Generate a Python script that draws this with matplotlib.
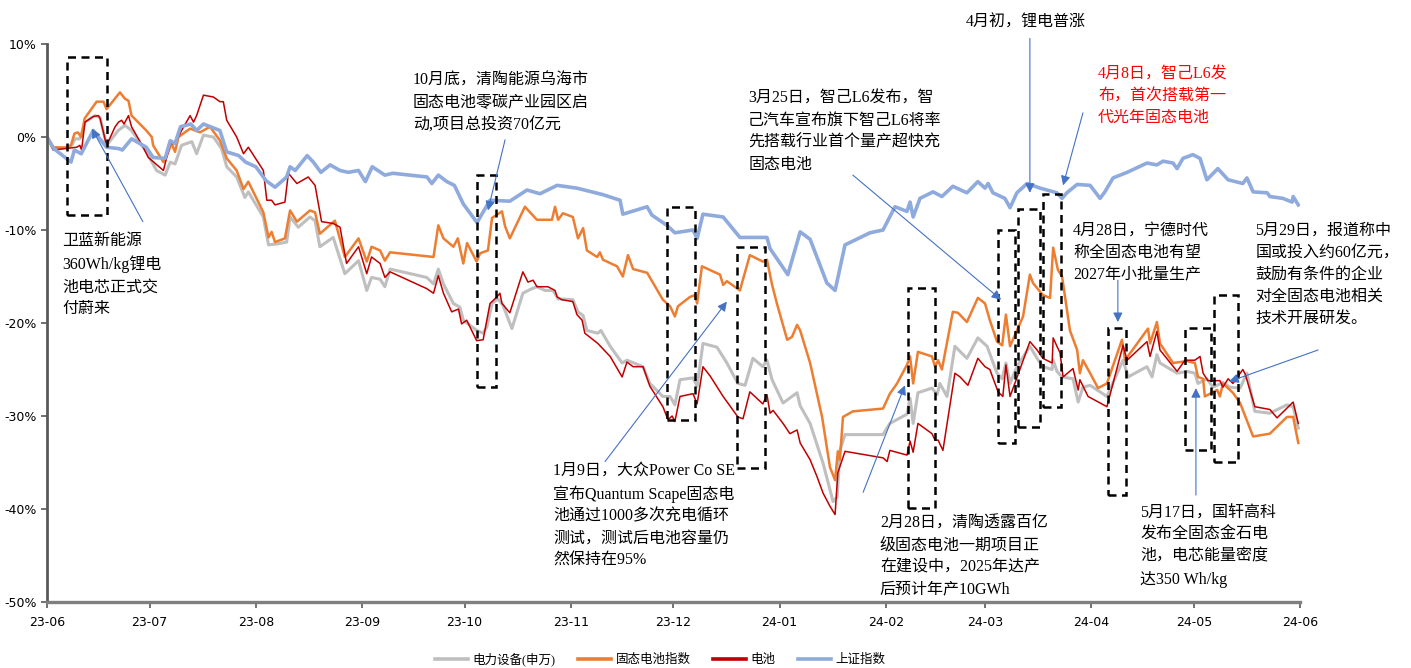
import matplotlib
matplotlib.use('Agg')
import matplotlib.pyplot as plt
import matplotlib.dates as mdates
from matplotlib.ticker import FuncFormatter
from matplotlib.patches import Rectangle
import pandas as pd

plt.rcParams['axes.unicode_minus'] = False

START = pd.Timestamp('2023-06-01')
END = pd.Timestamp('2024-06-01')

# ---------------- data (day offsets from 2023-06-01, cumulative return %) ----------------
gray_days = [0, 1.8, 5.7, 7.2, 8.2, 9.6, 11.1, 14, 15.5, 17.4, 20.8, 22.8, 24.7, 29, 32, 34.5, 36, 37.4,
             39.3, 42.3, 43.7, 45.7, 48.6, 51, 52.5, 55.4, 57.8, 58.8, 63.2, 64.7, 67.1, 70, 71, 73.4,
             76.8, 78.3, 79.7, 83.6, 87, 91, 93.4, 94.8, 97.3, 98.7, 100.2, 110.9, 112.9, 114.3, 115.8,
             118.7, 120.6, 121.6, 125.5, 127.4, 128.5, 130, 131.7, 133.2, 135.8, 139, 141.1, 143.1,
             145.5, 147.8, 149.3, 153.6, 155.1, 156.6, 157.7, 160.9, 161.8, 164.5, 168, 169.4, 174.1,
             176.1, 179.9, 182, 183.4, 184.9, 188.7, 189.9, 191.6, 195.7, 198.6, 201.8, 203.9, 206.2,
             209.1, 210.3, 211.8, 215, 219.1, 220, 222.9, 226.7, 229.6, 230.8, 231.6, 233.1, 244.2,
             246.2, 251.2, 252.1, 253, 254.4, 258.5, 260, 260.8, 262.9, 265.2, 268.7, 271.9, 274.6,
             277.5, 279, 280.1, 281.3, 283.3, 287.1, 289.2, 290.9, 293.6, 293.9, 295, 296.5, 299.7,
             301.2, 302.6, 304.7, 309.6, 314.3, 315.8, 321.3, 322.8, 324.2, 325.1, 330.1, 333, 335.3,
             336.2, 338.8, 340.6, 343.5, 345.5, 348.5, 350.5, 352.8, 357.2, 362.2, 364, 365.5]
gray_vals = [0, -1.25, -1.1, -0.9, -0.2, -0.2, 1.6, 2.3, 2.1, -0.9, 0.7, 1.25, 0.7, -1.6, -3.6, -4.1, -2.7,
             -2.9, -0.9, -0.5, -1.8, 0.2, 0, -1.25, -3.2, -4.3, -6.5, -5.9, -8.6, -11.6, -11.5, -11.3,
             -8.6, -9.7, -8.6, -9.0, -11.8, -10.8, -14.7, -13.3, -16.5, -15.1, -15.3, -16.1, -14.2,
             -15.1, -15.8, -14.2, -15.8, -17.9, -18.3, -19.7, -20.8, -21.1, -20.4, -17.9, -17.4, -18.1,
             -20.6, -16.8, -16.4, -16.1, -16.5, -16.5, -17.4, -17.5, -18.8, -19.2, -20.8, -21.1, -20.8,
             -22.5, -24.3, -24.0, -24.7, -26.5, -27.9, -27.9, -28.8, -26.1, -25.9, -26.8, -22.2, -22.6,
             -24.3, -26.5, -26.7, -23.8, -24.7, -24.0, -26.1, -28.6, -27.5, -28.9, -30.8, -35.1, -39.2,
             -38.7, -33.7, -32.0, -32.0, -30.8, -29.8, -28.1, -30.8, -27.5, -27.0, -27.7, -26.5, -27.9,
             -22.5, -23.8, -21.6, -22.5, -25.4, -26.0, -24.3, -26.5, -24.7, -22.5, -23.8, -24.7, -25.0,
             -24.0, -25.2, -25.8, -26.0, -28.5, -26.9, -26.7, -27.9, -24.0, -25.8, -24.7, -25.8, -23.4,
             -24.3, -25.4, -25.2, -25.4, -26.5, -26.0, -26.9, -26.4, -26.9, -27.0, -25.4, -29.5, -29.7,
             -28.8, -29.0, -31.3]

orange_days = [0, 1.8, 5.7, 7, 8, 9, 10, 11, 14.5, 16.5, 17.4, 21.3, 22.8, 23.8, 24.7, 29, 30.6, 31, 34, 35,
               36.4, 37.4, 38.4, 41.8, 44.7, 47.6, 50.5, 52.5, 55.4, 57.4, 58.8, 63.2, 64.7, 65.6, 66.6,
               69.5, 71, 73, 76.8, 78.3, 79.7, 84.1, 87, 91, 93.4, 94.8, 97.3, 98.7, 100.2, 112.9, 114.3,
               115.8, 118.7, 120, 121.6, 122.7, 125.5, 126.5, 128.8, 130.0, 132.9, 133.8, 135.2, 139.6,
               143.1, 147.5, 148.4, 149.3, 150.7, 153.6, 155.1, 156.6, 157.7, 160.7, 161.5, 162.4, 166.5,
               168.2, 169.7, 171.2, 175.3, 179.9, 182.0, 183.4, 184.3, 187.8, 189.3, 189.9, 191.3, 196.6,
               197.5, 198.6, 202.4, 205.3, 209.1, 210.3, 211.8, 213.2, 216.2, 217.6, 219.1, 220, 222.9,
               226.4, 228.7, 230.2, 231, 231.6, 232.5, 235.4, 244.2, 246.2, 248.3, 251.2, 252.1, 253,
               254.4, 258.5, 259.4, 260.3, 261.4, 264.6, 266.1, 268.7, 271.9, 274, 275.4, 277.5, 279,
               280.1, 281.3, 283.3, 285.1, 287.1, 288, 290.9, 293, 293.9, 295.3, 296.5, 298.8, 300.9,
               301.7, 302.6, 304.7, 307, 309.6, 314, 314.9, 321.6, 322.2, 324.2, 325.1, 328.9, 333,
               335.3, 336.2, 337.7, 338.2, 341.8, 342.6, 343.5, 346.4, 348.5, 352.3, 357.2, 362.2, 364,
               365.5]
orange_vals = [0, -1.1, -1.15, -0.9, 0.36, 0.5, 0, 2.0, 3.8, 3.8, 3.0, 4.8, 4.1, 3.9, 2.3, 0.7, 0, -0.9,
               -2.7, -2.0, -0.7, -1.6, 0, 0.9, 0.5, 1.1, -0.36, -2.3, -3.6, -5.6, -4.8, -8.1, -10.8, -10.2,
               -11.3, -10.9, -7.9, -9.1, -7.9, -8.1, -10.4, -9.0, -12.9, -10.9, -13.4, -11.8, -12.2, -13.3,
               -12.4, -12.9, -9.5, -10.9, -11.8, -10.9, -13.6, -11.4, -13.4, -12.5, -12.2, -8.7, -8.0,
               -9.6, -10.9, -7.5, -8.9, -8.9, -7.5, -8.9, -8.2, -8.6, -10.9, -9.8, -12.2, -12.9, -12.4,
               -13.2, -13.9, -15.0, -12.7, -14.2, -14.6, -17.5, -18.2, -19.3, -18.2, -17.2, -17.0, -17.9,
               -13.9, -14.8, -15.9, -15.5, -16.5, -12.7, -13.4, -13.2, -15.9, -17.9, -21.8, -21.5, -20.2,
               -20.8, -24.3, -30.1, -35.5, -36.9, -33.8, -34.7, -30.1, -29.5, -29.2, -27.6, -26.5, -24.5,
               -23.6, -26.5, -23.1, -23.6, -24.7, -24.0, -25.0, -18.8, -18.9, -19.9, -17.3, -17.9, -19.7,
               -22.0, -22.4, -19.1, -22.5, -20.8, -19.3, -14.8, -15.7, -17.0, -17.3, -11.9, -14.3, -15.0,
               -20.8, -22.9, -25.4, -24.0, -25.4, -27.0, -26.5, -21.8, -24.0, -20.6, -22.2, -19.9, -22.2,
               -24.3, -24.1, -24.3, -25.8, -26.0, -27.9, -27.2, -27.9, -26.5, -27.5, -28.6, -32.2, -31.9,
               -30.1, -30.1, -32.9]

red_days = [0, 1.8, 8.7, 9.6, 10.1, 11.1, 13.5, 15, 15.5, 17.4, 19.9, 20.9, 21.8, 22.5, 23.8, 24.7, 28.1,
            29.6, 34, 36, 37.4, 39.3, 41.8, 42.8, 43.7, 45.7, 48.6, 50.5, 51.5, 52.5, 55.4, 57.4, 58.8,
            63.2, 64.2, 65.6, 66.6, 69.5, 70.5, 73, 76.3, 78.3, 80.2, 83.6, 85.6, 87.5, 91, 93.4, 94.8,
            97.3, 98.7, 100.2, 110.9, 112.9, 114.3, 115.8, 118.2, 120.2, 121.1, 122.6, 125.5, 127.4,
            129.4, 131.4, 132.3, 132.9, 135.2, 139, 140.5, 142, 143.1, 146.3, 148.4, 149, 150.4, 153.6,
            154.8, 156.3, 157.1, 160.9, 164.5, 168, 169.4, 171.2, 174.1, 176.1, 179.9, 181.4, 182.6,
            183.4, 184.9, 188.7, 189.9, 191.6, 193.7, 197.5, 201.8, 203.3, 205.3, 209.1, 210.3, 211.2,
            212.1, 215, 217, 219.1, 220, 222.9, 224.9, 226.7, 228.7, 230.2, 231, 233.1, 244.2, 245.4,
            246.2, 251.2, 252.1, 253, 254.4, 258.5, 259.4, 260.3, 261.7, 265.2, 266.7, 269, 271.9, 274,
            275.4, 277.8, 279.2, 280.1, 281.3, 283.3, 287.1, 289.2, 290.9, 293.6, 293.9, 295, 295.9,
            296.8, 299.7, 301.2, 301.7, 304.1, 309.6, 314.3, 315.5, 321.3, 322.2, 324.2, 325.1, 330.1,
            332.4, 335.3, 336.8, 337.7, 339.1, 342.6, 343.5, 345, 346.4, 349.3, 350, 352.8, 357.2,
            359.3, 364, 365.5]
red_vals = [0, -1.4, -1.1, -0.9, -1.4, 1.6, 2.2, 2.3, 2.0, -0.9, 1.1, 1.6, 1.8, 1.4, 2.3, 1.1, -1.1, -2.2,
            -3.6, -0.7, -0.7, 0.7, 2.3, 1.6, 2.3, 4.5, 4.3, 3.8, 3.8, 1.8, 0, -1.8, -1.1, -3.6, -6.8, -6.8,
            -7.3, -7.0, -3.9, -5.0, -4.3, -5.2, -9.1, -9.3, -9.7, -13.6, -11.8, -14.7, -12.9, -13.6,
            -15.1, -14.5, -16.3, -16.8, -14.9, -16.8, -18.8, -18.5, -20.1, -19.7, -21.9, -21.8, -17.9,
            -17.2, -16.8, -17.9, -18.9, -14.5, -15.6, -15.4, -16.1, -16.1, -16.5, -17.2, -17.5, -17.7,
            -19.1, -19.7, -21.1, -22.2, -23.6, -25.8, -24.2, -24.7, -24.7, -26.8, -29.0, -30.4, -30.0,
            -30.6, -27.9, -27.6, -28.7, -24.7, -25.7, -27.9, -30.1, -30.3, -27.4, -28.7, -27.7, -29.7,
            -29.4, -30.8, -31.9, -31.5, -32.9, -34.7, -36.5, -38.3, -39.7, -40.6, -36.1, -33.8, -34.5,
            -34.9, -33.7, -34.2, -32.7, -33.9, -30.8, -31.9, -32.6, -32.6, -33.7, -25.4, -25.8, -26.7,
            -23.8, -24.7, -25.0, -27.4, -27.9, -24.5, -27.9, -25.9, -22.0, -22.9, -23.8, -24.3, -21.6,
            -22.5, -23.2, -25.8, -24.9, -27.2, -26.1, -27.9, -29.0, -22.4, -24.0, -22.0, -23.6, -20.9,
            -22.9, -25.2, -24.0, -24.0, -23.6, -25.4, -26.2, -26.2, -26.9, -26.0, -26.5, -25.0, -25.5,
            -29.0, -29.3, -30.2, -28.5, -30.8]

blue_days = [0, 2, 7, 8, 10, 13.5, 17.4, 21, 22, 24.7, 29, 31, 34.5, 36, 37.4, 39, 42, 43.7, 45.7, 50.5,
             52.5, 56, 58, 61, 64, 66.6, 70, 71, 72.5, 76, 77.8, 80, 82.7, 85.6, 88, 91, 93, 95, 98.7, 101,
             111, 112.4, 114.3, 116.8, 119, 121.6, 125.6, 129.4, 135.2, 140.2, 144, 149, 154.8, 162.4,
             167.4, 168.2, 175.3, 176.7, 181.1, 183.4, 188.7, 189.9, 191.6, 197.5, 202.4, 210.3, 211.2,
             216.4, 220, 222.9, 227.8, 230.2, 233.1, 240.4, 244.2, 247.7, 251.2, 252.1, 253, 255, 258.8,
             261.4, 264.6, 268.7, 271.9, 274, 274.9, 276.3, 279.8, 281.3, 283.3, 286.3, 290.1, 295,
             296.5, 297.9, 300.9, 304.7, 307.6, 309, 311.4, 315.5, 321.3, 324.2, 326, 328.9, 330.1,
             331.8, 334.7, 336.8, 338.8, 342, 343.5, 345, 349.3, 350.5, 352.3, 356.4, 357.2, 361, 363.7,
             364, 365.5]
blue_vals = [0, -1.25, -2.7, -1.4, -1.8, 0.7, -1.1, -1.25, -1.4, -0.2, -1.1, -2.2, -2.3, -0.4, -0.7, 1.1,
             1.4, 0.7, 1.4, 0.7, -1.6, -2.0, -2.7, -3.2, -4.7, -5.4, -4.3, -3.2, -3.6, -2.0, -2.7, -3.8,
             -3.0, -3.6, -3.8, -3.6, -4.8, -3.2, -4.1, -3.9, -4.3, -5.0, -4.1, -4.8, -5.2, -7.2, -9.2,
             -6.8, -6.9, -5.7, -6.1, -5.2, -5.5, -6.2, -6.8, -8.3, -7.5, -8.4, -9.5, -10.3, -10.0, -10.9,
             -8.3, -8.6, -10.8, -10.8, -12.0, -14.8, -10.2, -11.0, -15.7, -16.5, -11.6, -10.3, -10.0,
             -7.5, -8.0, -7.0, -8.6, -6.6, -5.9, -6.4, -5.3, -6.0, -4.8, -5.5, -5.0, -6.0, -6.6, -7.6,
             -6.0, -5.0, -5.5, -6.0, -6.6, -6.0, -5.1, -5.2, -6.6, -5.9, -4.4, -3.8, -2.8, -3.0, -2.6,
             -2.8, -3.4, -2.3, -1.9, -2.3, -4.6, -3.4, -4.0, -4.6, -5.0, -4.4, -5.9, -6.0, -6.4, -6.6,
             -7.0, -6.4, -7.3]

series_names = ['电力设备(申万)', '固态电池指数', '电池', '上证指数']
y_ticks = [10, 0, -10, -20, -30, -40, -50]

# ---------------- annotations (day offset, %) ----------------
notes = [
    ("卫蓝新能源\n360Wh/kg锂电\n池电芯正式交\n付蔚来", (4.4, -10.3), 'black'),
    ("10月底，清陶能源乌海市\n固态电池零碳产业园区启\n动,项目总投资70亿元", (106.9, 6.9), 'black'),
    ("1月9日，大众Power Co SE\n宣布Quantum Scape固态电\n池通过1000多次充电循环\n测试，测试后电池容量仍\n然保持在95%", (147.8, -35.0), 'black'),
    ("3月25日，智己L6发布，智\n己汽车宣布旗下智己L6将率\n先搭载行业首个量产超快充\n固态电池", (204.8, 5.0), 'black'),
    ("4月初，锂电普涨", (268.4, 13.2), 'black'),
    ("4月8日，智己L6发\n布，首次搭载第一\n代光年固态电池", (307.0, 7.6), '#FF0000'),
    ("4月28日，宁德时代\n称全固态电池有望\n2027年小批量生产", (299.7, -9.2), 'black'),
    ("5月29日，报道称中\n国或投入约60亿元，\n鼓励有条件的企业\n对全固态电池相关\n技术开展研发。", (352.9, -9.2), 'black'),
    ("5月17日，国轩高科\n发布全固态金石电\n池，电芯能量密度\n达350 Wh/kg", (319.3, -39.5), 'black'),
    ("2月28日，清陶透露百亿\n级固态电池一期项目正\n在建设中，2025年达产\n后预计年产10GWh", (243.3, -40.7), 'black'),
]
arrows = [  # (start, head)
    ((28.0, -9.1), (13.1, 0.9)),
    ((133.8, -0.3), (128.8, -7.9)),
    ((163.0, -34.9), (198.6, -17.7)),
    ((235.4, -4.1), (278.7, -17.5)),
    ((287.1, 10.6), (287.1, -6.0)),
    ((302.6, 2.6), (296.8, -5.2)),
    ((312.8, -15.4), (312.8, -19.9)),
    ((371.3, -22.9), (345.3, -26.3)),
    ((335.6, -38.5), (335.6, -27.0)),
    ((238.4, -38.2), (250.6, -26.7)),
]
boxes = [  # (start day, end day, top %, bottom %)
    (5.8, 17.5, 8.6, -8.4),
    (125.6, 131.2, -4.1, -26.9),
    (181.1, 189.3, -7.5, -30.4),
    (201.5, 209.7, -11.8, -35.6),
    (251.5, 259.4, -16.2, -39.9),
    (277.8, 282.7, -10.0, -32.9),
    (283.6, 290.1, -7.7, -31.2),
    (290.9, 296.2, -6.1, -29.0),
    (309.9, 315.2, -20.5, -38.5),
    (332.4, 340.0, -20.5, -33.7),
    (340.9, 348.0, -17.0, -34.9),
]


def to_num(day):
    return mdates.date2num(START + pd.Timedelta(days=day))


def to_dates(days):
    return START + pd.to_timedelta(days, unit='D')


CJK = ['Liberation Serif', 'Noto Sans CJK SC']

fig = plt.figure(figsize=(14.11, 6.68), dpi=100)
ax = fig.add_axes([47 / 1411, 1 - 602 / 668, 1253 / 1411, 558 / 668])

ax.plot(to_dates(gray_days), gray_vals, color='#BFBFBF', lw=2.2, label=series_names[0])
ax.plot(to_dates(orange_days), orange_vals, color='#ED7D31', lw=1.8, label=series_names[1])
ax.plot(to_dates(red_days), red_vals, color='#C00000', lw=1.1, label=series_names[2])
ax.plot(to_dates(blue_days), blue_vals, color='#8FAADC', lw=2.6, label=series_names[3])

for d0, d1, top, bot in boxes:
    x0 = to_num(d0)
    x1 = to_num(d1)
    ax.add_patch(Rectangle((x0, bot), x1 - x0, top - bot, fill=False, edgecolor='black',
                           lw=1.8, linestyle=(0, (3.2, 2.2)), zorder=5, clip_on=False))

for text, (d, v), col in notes:
    ax.text(to_num(d), v, text, ha='left', va='top', fontsize=11.5, color=col,
            family=CJK, weight='light', linespacing=1.5, zorder=6)

for (sd, sv), (hd, hv) in arrows:
    ax.annotate('', xy=(to_num(hd), hv), xytext=(to_num(sd), sv),
                arrowprops=dict(arrowstyle='-|>', color='#4472C4', lw=0.8,
                                mutation_scale=14, shrinkA=0, shrinkB=0),
                annotation_clip=False, zorder=6)

ax.set_xlim(START, END)
ax.set_ylim(-50, 10)
ax.set_yticks(y_ticks)
ax.yaxis.set_major_formatter(FuncFormatter(lambda v, p: f"{v:.0f}%"))
ax.xaxis.set_major_locator(mdates.MonthLocator())
ax.xaxis.set_major_formatter(mdates.DateFormatter('%y-%m'))

for s in ['top', 'right']:
    ax.spines[s].set_visible(False)
ax.spines['left'].set_color('#595959')
ax.spines['left'].set_linewidth(2.0)
ax.spines['bottom'].set_color('#7F7F7F')
ax.spines['bottom'].set_linewidth(2.4)
ax.tick_params(axis='both', direction='out', length=4, width=1.2, color='#595959',
               labelsize=9, labelcolor='black')
ax.tick_params(axis='x', pad=6)

leg = fig.legend(loc='lower center', bbox_to_anchor=(0.468, -0.014), ncol=4, frameon=False,
                 prop={'family': CJK, 'size': 9}, handlelength=2.6, columnspacing=1.8,
                 handletextpad=0.4)
for h in leg.get_lines():
    h.set_linewidth(2.6)

fig.savefig('out.png', dpi=100)
